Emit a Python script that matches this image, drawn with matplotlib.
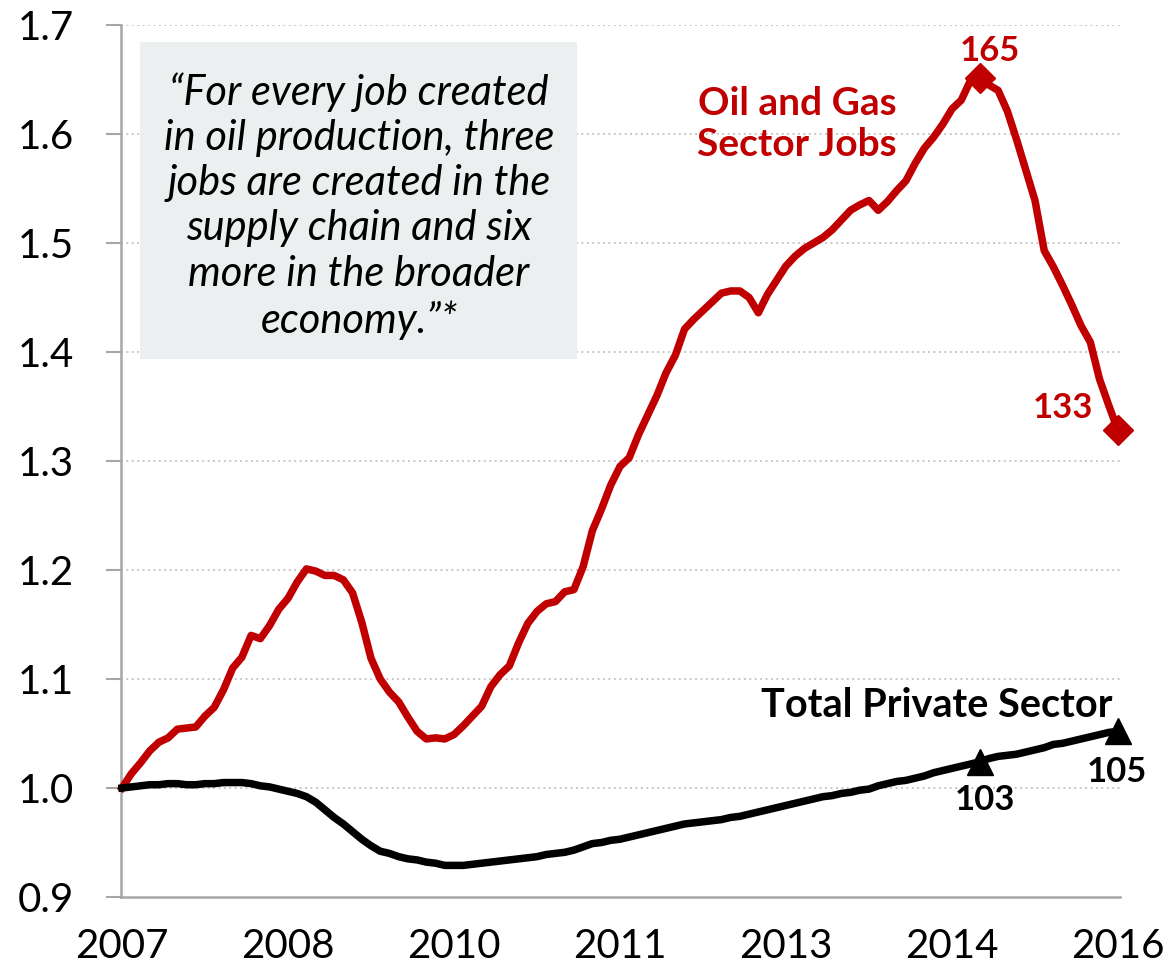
import numpy as np
import matplotlib
matplotlib.use("Agg")
import matplotlib.pyplot as plt
from matplotlib.patches import Rectangle

# ---- data (monthly index, Jan 2007 = 0 ... Jan 2016 = 108) ----
oil_gas = [1.000, 1.013, 1.023, 1.034, 1.042, 1.046, 1.054, 1.055, 1.056, 1.066,
           1.074, 1.090, 1.110, 1.120, 1.140, 1.137, 1.149, 1.164, 1.174, 1.189,
           1.201, 1.199, 1.195, 1.195, 1.191, 1.179, 1.152, 1.119, 1.100, 1.088,
           1.079, 1.065, 1.052, 1.045, 1.046, 1.045, 1.049, 1.057, 1.066, 1.075,
           1.093, 1.104, 1.112, 1.133, 1.151, 1.162, 1.169, 1.171, 1.180, 1.182,
           1.203, 1.236, 1.256, 1.278, 1.295, 1.303, 1.324, 1.342, 1.360, 1.381,
           1.397, 1.421, 1.430, 1.438, 1.446, 1.454, 1.456, 1.456, 1.450, 1.436,
           1.453, 1.466, 1.479, 1.488, 1.495, 1.500, 1.505, 1.512, 1.521, 1.530,
           1.535, 1.539, 1.530, 1.538, 1.548, 1.557, 1.573, 1.587, 1.597, 1.609,
           1.623, 1.631, 1.649, 1.651, 1.645, 1.640, 1.621, 1.595, 1.567, 1.539,
           1.493, 1.478, 1.461, 1.443, 1.424, 1.409, 1.375, 1.351, 1.328]

private = [1.000, 1.001, 1.002, 1.003, 1.003, 1.004, 1.004, 1.003, 1.003, 1.004,
           1.004, 1.005, 1.005, 1.005, 1.004, 1.002, 1.001, 0.999, 0.997, 0.995,
           0.992, 0.987, 0.980, 0.973, 0.967, 0.960, 0.953, 0.947, 0.942, 0.940,
           0.937, 0.935, 0.934, 0.932, 0.931, 0.929, 0.929, 0.929, 0.930, 0.931,
           0.932, 0.933, 0.934, 0.935, 0.936, 0.937, 0.939, 0.940, 0.941, 0.943,
           0.946, 0.949, 0.950, 0.952, 0.953, 0.955, 0.957, 0.959, 0.961, 0.963,
           0.965, 0.967, 0.968, 0.969, 0.970, 0.971, 0.973, 0.974, 0.976, 0.978,
           0.980, 0.982, 0.984, 0.986, 0.988, 0.990, 0.992, 0.993, 0.995, 0.996,
           0.998, 0.999, 1.002, 1.004, 1.006, 1.007, 1.009, 1.011, 1.014, 1.016,
           1.018, 1.020, 1.022, 1.024, 1.027, 1.029, 1.030, 1.031, 1.033, 1.035,
           1.037, 1.040, 1.041, 1.043, 1.045, 1.047, 1.049, 1.051, 1.052]

months = list(range(len(oil_gas)))
tick_months = [0, 18, 36, 54, 72, 90, 108]
tick_labels = ["2007", "2008", "2010", "2011", "2013", "2014", "2016"]
y_ticks = [0.9, 1.0, 1.1, 1.2, 1.3, 1.4, 1.5, 1.6, 1.7]
marker_months = [93, 108]
oil_marker_labels = ["165", "133"]
priv_marker_labels = ["103", "105"]
quote = ("\u201cFor every job created\nin oil production, three\njobs are created in the\n"
         "supply chain and six\nmore in the broader\neconomy.\u201d*")

RED = "#C00000"
AXGRAY = "#A6A6A6"
FONT = ["Lato", "DejaVu Sans"]
plt.rcParams["font.family"] = FONT

W, H = 1166, 971
fig = plt.figure(figsize=(W / 100, H / 100), dpi=100)
ax = fig.add_axes([121 / W, 1 - 897 / H, (1120 - 121) / W, (897 - 25) / H])

ax.plot(months, oil_gas, color=RED, lw=5.4, solid_joinstyle="round", zorder=3,
        clip_on=False)
ax.plot(months, private, color="black", lw=5.4, solid_joinstyle="round", zorder=3,
        clip_on=False)

ax.plot(marker_months, [oil_gas[m] for m in marker_months], ls="none", marker="D",
        ms=15, color=RED, zorder=4, clip_on=False)
ax.plot(marker_months, [private[m] for m in marker_months], ls="none", marker="^",
        ms=19, color="black", zorder=4, clip_on=False)

px = 996 / 108.0
ax.set_xlim(-1 / px, 108 + 2 / px)
ax.set_ylim(0.9, 1.7)
ax.set_yticks(y_ticks)
ax.set_yticklabels([f"{v:.1f}" for v in y_ticks])
ax.set_xticks(tick_months)
ax.set_xticklabels(tick_labels)
ax.tick_params(axis="y", length=11, width=1.5, color=AXGRAY, pad=23, labelsize=29)
ax.tick_params(axis="x", length=0, pad=22, labelsize=29)

for s in ["top", "right"]:
    ax.spines[s].set_visible(False)
for s in ["left", "bottom"]:
    ax.spines[s].set_color(AXGRAY)
    ax.spines[s].set_linewidth(1.8)

for v in y_ticks[1:]:
    ax.axhline(v, color="#BFBFBF", lw=1.3, ls=(0, (1, 2)), zorder=1)

# quote box
ax.add_patch(Rectangle((1.95, 1.394), 47.35, 0.290, facecolor="#ECEFF0",
                       edgecolor="none", zorder=2))
ax.text(25.7, 1.534, quote, ha="center", va="center", fontsize=30, style="italic",
        linespacing=1.23, zorder=5)

ax.text(73.2, 1.609, "Oil and Gas\nSector Jobs", ha="center", va="center",
        fontsize=28, fontweight="bold", color=RED, linespacing=1.22, zorder=5)
ax.text(94.1, 1.676, oil_marker_labels[0], ha="center", va="center",
        fontsize=25, fontweight="bold", color=RED, zorder=5)
ax.text(102.0, 1.349, oil_marker_labels[1], ha="center", va="center",
        fontsize=25, fontweight="bold", color=RED, zorder=5)
ax.text(88.4, 1.076, "Total Private Sector", ha="center", va="center",
        fontsize=28.5, fontweight="bold", color="black", zorder=5)
ax.text(93.6, 0.989, priv_marker_labels[0], ha="center", va="center",
        fontsize=25, fontweight="bold", color="black", zorder=5)
ax.text(107.9, 1.015, priv_marker_labels[1], ha="center", va="center",
        fontsize=25, fontweight="bold", color="black", zorder=5)

fig.savefig("out.png", dpi=100)
